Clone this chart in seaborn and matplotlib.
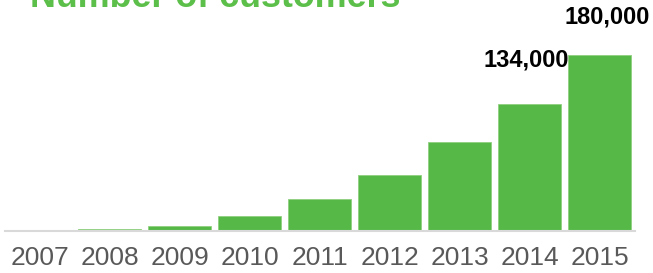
import pandas as pd
import matplotlib.pyplot as plt
import seaborn as sns

# values (bar heights)
years = ["2007", "2008", "2009", "2010", "2011", "2012", "2013", "2014", "2015"]
customers = [300, 1600, 5400, 15300, 32700, 57300, 91000, 130000, 180000]
value_labels = ["", "", "", "", "", "", "", "134,000", "180,000"]
# label offsets in points (dx, dy) from the bar top
label_offsets = [(0, 0)] * 7 + [(-2.5, 23), (5.5, 19)]

df = pd.DataFrame({"Year": years, "Customers": customers})

sns.set_style("white")
plt.rcParams["font.family"] = ["Liberation Sans", "DejaVu Sans"]

green = "#56b947"
fig = plt.figure(figsize=(6.53, 2.73), dpi=100)
ax = fig.add_axes([4.5 / 653, (273 - 231) / 273, 630 / 653, 176 / 273])

sns.barplot(data=df, x="Year", y="Customers", color=green, width=0.9,
            saturation=1, edgecolor="#8fd17f", linewidth=0.6, ax=ax)

ax.set_xlim(-0.5, 8.5)
ax.set_ylim(0, 180000)
ax.set_xlabel("")
ax.set_ylabel("")
ax.set_yticks([])
ax.tick_params(axis="x", length=0, pad=11, labelsize=19, labelcolor="#595959")
for side in ["top", "left", "right"]:
    ax.spines[side].set_visible(False)
ax.spines["bottom"].set_color("#d9d9d9")
ax.spines["bottom"].set_linewidth(1.5)
ax.set_facecolor("none")

for i, (val, lab) in enumerate(zip(customers, value_labels)):
    if lab:
        dx, dy = label_offsets[i]
        ax.annotate(lab, xy=(i, val), xytext=(dx, dy), textcoords="offset points",
                    ha="center", va="bottom", fontsize=17, fontweight="bold",
                    color="black", annotation_clip=False)

fig.text(30 / 653, 1 - 7 / 273, "Number of customers", color="#5cbf4a",
         fontsize=25.8, fontweight="bold", ha="left", va="baseline")

plt.savefig("out.png", dpi=100)
